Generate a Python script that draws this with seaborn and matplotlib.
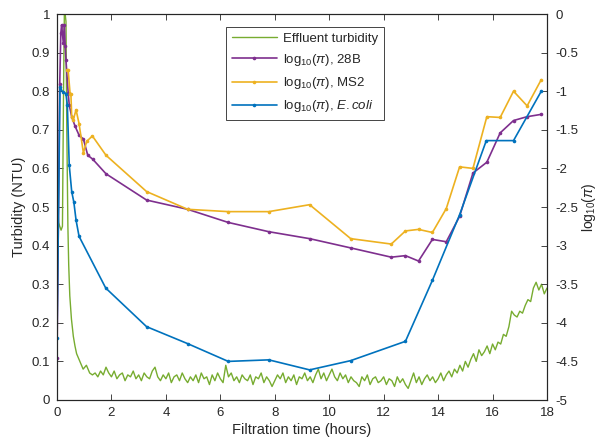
import numpy as np
import pandas as pd
import matplotlib
matplotlib.use("Agg")
import matplotlib.pyplot as plt
import seaborn as sns

# ---------------- data ----------------
# Effluent turbidity (NTU) - early spike, explicit samples
green_early_t = [0.0, 0.03, 0.06, 0.10, 0.15, 0.20, 0.24, 0.27, 0.30, 0.33, 0.36,
                 0.40, 0.43, 0.47, 0.53, 0.60, 0.66, 0.72, 0.84, 0.96, 1.08, 1.20, 1.30]
green_early_v = [0.47, 0.50, 0.46, 0.45, 0.44, 0.45, 0.80, 1.00, 1.00, 0.98, 0.70,
                 0.45, 0.35, 0.27, 0.21, 0.165, 0.14, 0.12, 0.10, 0.08, 0.09, 0.07, 0.065]
# Effluent turbidity after t = 1.4 h, one reading every 0.1 h
green_start = 1.4
green_step = 0.1
green_late_v = [
    0.07, 0.06, 0.075, 0.065, 0.085, 0.07,                               # 1.4-1.9
    0.06, 0.075, 0.055, 0.065, 0.07, 0.05, 0.065, 0.06, 0.075, 0.055,    # 2
    0.065, 0.05, 0.07, 0.06, 0.055, 0.075, 0.085, 0.06, 0.05, 0.065,     # 3
    0.055, 0.07, 0.045, 0.06, 0.065, 0.05, 0.07, 0.055, 0.045, 0.06,     # 4
    0.05, 0.065, 0.045, 0.07, 0.055, 0.06, 0.04, 0.065, 0.05, 0.07,      # 5
    0.055, 0.045, 0.09, 0.06, 0.07, 0.05, 0.06, 0.045, 0.065, 0.055,     # 6
    0.05, 0.065, 0.04, 0.06, 0.055, 0.07, 0.045, 0.06, 0.05, 0.035,      # 7
    0.05, 0.065, 0.055, 0.07, 0.045, 0.06, 0.05, 0.065, 0.04, 0.06,      # 8
    0.055, 0.07, 0.05, 0.06, 0.045, 0.065, 0.08, 0.055, 0.07, 0.05,      # 9
    0.065, 0.08, 0.06, 0.05, 0.07, 0.055, 0.065, 0.045, 0.06, 0.05,      # 10
    0.045, 0.035, 0.06, 0.05, 0.065, 0.04, 0.055, 0.06, 0.045, 0.05,     # 11
    0.06, 0.04, 0.055, 0.05, 0.035, 0.06, 0.045, 0.055, 0.04, 0.03,      # 12
    0.05, 0.07, 0.045, 0.06, 0.04, 0.055, 0.065, 0.05, 0.06, 0.045,      # 13
    0.055, 0.07, 0.05, 0.065, 0.075, 0.06, 0.08, 0.07, 0.09, 0.075,      # 14
    0.10, 0.085, 0.105, 0.12, 0.10, 0.13, 0.115, 0.125, 0.14, 0.12,      # 15
    0.145, 0.13, 0.15, 0.145, 0.17, 0.165, 0.19, 0.23, 0.22, 0.215,      # 16
    0.23, 0.225, 0.245, 0.26, 0.255, 0.29, 0.305, 0.285, 0.30, 0.275,    # 17
    0.29,                                                                # 18
]

# log10(pi), 28B
b28_t = [0.0, 0.10, 0.14, 0.17, 0.23, 0.27, 0.30, 0.33, 0.41, 0.45, 0.54, 0.66, 0.81,
         0.97, 1.13, 1.31, 1.80, 3.29, 4.80, 6.29, 7.78, 9.28, 10.79, 12.28, 12.80,
         13.28, 13.79, 14.30, 14.79, 15.28, 15.79, 16.28, 16.77, 17.27, 17.79]
b28_v = [-4.45, -0.91, -0.25, -0.14, -0.37, -0.14, -0.41, -0.60, -1.02, -1.18, -1.33,
         -1.45, -1.57, -1.62, -1.83, -1.88, -2.07, -2.41, -2.53, -2.70, -2.82, -2.91,
         -3.03, -3.15, -3.13, -3.20, -2.92, -2.95, -2.62, -2.06, -1.92, -1.54, -1.38,
         -1.33, -1.30]

# log10(pi), MS2
ms2_t = [0.36, 0.41, 0.48, 0.51, 0.54, 0.60, 0.70, 0.81, 0.97, 1.09, 1.30, 1.80, 3.29,
         4.80, 6.29, 7.78, 9.28, 10.79, 12.28, 12.80, 13.28, 13.79, 14.30, 14.79, 15.28,
         15.79, 16.28, 16.77, 17.27, 17.79]
ms2_v = [-0.73, -0.73, -1.03, -1.03, -1.33, -1.37, -1.24, -1.42, -1.80, -1.65, -1.58,
         -1.83, -2.30, -2.53, -2.56, -2.56, -2.47, -2.91, -2.98, -2.81, -2.79, -2.83,
         -2.52, -1.98, -2.00, -1.33, -1.34, -1.00, -1.19, -0.85]

# log10(pi), E.coli
ecoli_t = [0.0, 0.11, 0.21, 0.33, 0.38, 0.45, 0.54, 0.62, 0.70, 0.81, 1.79, 3.29, 4.80,
           6.29, 7.78, 9.28, 10.79, 12.80, 13.79, 14.79, 15.77, 16.77, 17.79]
ecoli_v = [-4.20, -0.95, -1.01, -1.03, -1.18, -1.96, -2.30, -2.44, -2.67, -2.88, -3.55,
           -4.05, -4.27, -4.50, -4.48, -4.61, -4.49, -4.24, -3.45, -2.60, -1.64, -1.64,
           -1.00]

x_ticks = [0, 2, 4, 6, 8, 10, 12, 14, 16, 18]
left_ticks = [0, 0.1, 0.2, 0.3, 0.4, 0.5, 0.6, 0.7, 0.8, 0.9, 1]
left_labels = ["0", "0.1", "0.2", "0.3", "0.4", "0.5", "0.6", "0.7", "0.8", "0.9", "1"]
right_ticks = [-5, -4.5, -4, -3.5, -3, -2.5, -2, -1.5, -1, -0.5, 0]
right_labels = ["-5", "-4.5", "-4", "-3.5", "-3", "-2.5", "-2", "-1.5", "-1", "-0.5", "0"]

# ---------------- styling ----------------
sns.set_style("ticks")
plt.rcParams["font.family"] = ["Liberation Sans", "DejaVu Sans"]
plt.rcParams["mathtext.fontset"] = "custom"
plt.rcParams["mathtext.rm"] = "Liberation Sans"
plt.rcParams["mathtext.it"] = "Liberation Sans:italic"
plt.rcParams["axes.unicode_minus"] = False

C_GREEN = "#77AC30"
C_PURPLE = "#7E2F8E"
C_ORANGE = "#EDB120"
C_BLUE = "#0072BD"
C_AX = "#262626"

green_late_t = [round(green_start + i * green_step, 2) for i in range(len(green_late_v))]
green_df = pd.DataFrame({"t": green_early_t + green_late_t,
                         "v": green_early_v + green_late_v})

fig = plt.figure(figsize=(5.99, 4.46), dpi=100)
ax = fig.add_axes([57 / 599, 46 / 446, 490 / 599, 386 / 446])
ax2 = ax.twinx()

sns.lineplot(data=green_df, x="t", y="v", ax=ax, color=C_GREEN, linewidth=1.0,
             sort=False, estimator=None, legend=False)

kw = dict(sort=False, estimator=None, legend=False, linewidth=1.2,
          marker="o", markersize=2.6, markeredgewidth=0)
sns.lineplot(x=b28_t, y=b28_v, ax=ax2, color=C_PURPLE, **kw)
sns.lineplot(x=ms2_t, y=ms2_v, ax=ax2, color=C_ORANGE, **kw)
sns.lineplot(x=ecoli_t, y=ecoli_v, ax=ax2, color=C_BLUE, **kw)

ax.set_xlim(0, 18)
ax.set_ylim(0, 1)
ax2.set_ylim(-5, 0)
ax.set_xticks(x_ticks)
ax.set_xticklabels([str(v) for v in x_ticks])
ax.set_yticks(left_ticks)
ax.set_yticklabels(left_labels)
ax2.set_yticks(right_ticks)
ax2.set_yticklabels(right_labels)

for a in (ax, ax2):
    for s in a.spines.values():
        s.set_visible(True)
        s.set_color(C_AX)
        s.set_linewidth(0.8)
ax.tick_params(axis="both", direction="in", length=4, width=0.6, colors=C_AX,
               labelsize=9.5, top=True, right=False, pad=5)
ax2.tick_params(axis="y", direction="in", length=4, width=0.6, colors=C_AX,
                labelsize=9.5, pad=6)

ax.set_xlabel("Filtration time (hours)", fontsize=10.5, color=C_AX, labelpad=3)
ax.set_ylabel("Turbidity (NTU)", fontsize=10.5, color=C_AX, labelpad=4)
ax2.set_ylabel(r"log$_{10}$($\pi$)", fontsize=10, color=C_AX, labelpad=1)

handles = [ax.lines[0], ax2.lines[0], ax2.lines[1], ax2.lines[2]]
labels = ["Effluent turbidity", r"log$_{10}$($\pi$), 28B", r"log$_{10}$($\pi$), MS2",
          r"log$_{10}$($\pi$), $\it{E.coli}$"]
leg = ax2.legend(handles, labels, loc="upper center", bbox_to_anchor=(0.506, 0.966),
                 fontsize=9.5, frameon=True, fancybox=False, framealpha=1,
                 edgecolor=C_AX, handlelength=3.4, borderpad=0.4, labelspacing=0.55,
                 handletextpad=0.5, borderaxespad=0)
leg.get_frame().set_linewidth(0.6)

fig.savefig("out.png", dpi=100)
